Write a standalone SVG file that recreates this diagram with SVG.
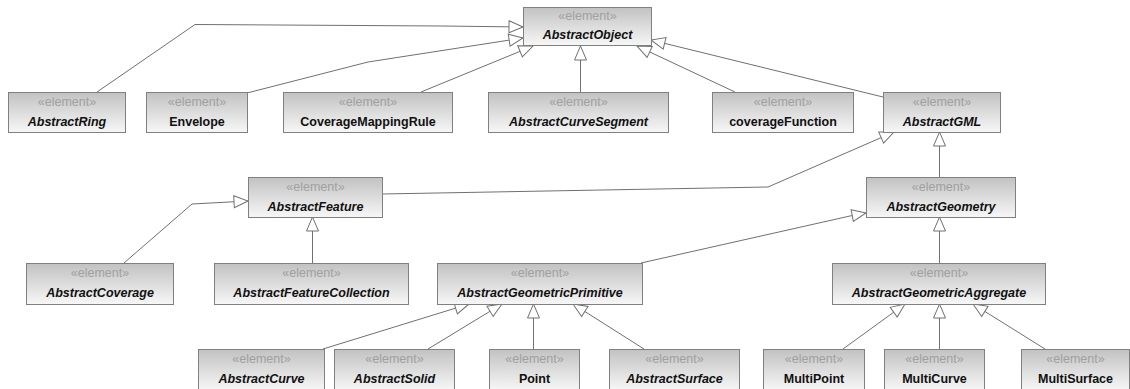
<svg xmlns="http://www.w3.org/2000/svg" width="1130" height="389" viewBox="0 0 1130 389">
  <defs>
    <linearGradient id="boxFill" x1="0" y1="0" x2="0" y2="1">
      <stop offset="0" stop-color="#c2c2c2"/>
      <stop offset="1" stop-color="#f7f7f7"/>
    </linearGradient>
    <marker id="gen" markerUnits="userSpaceOnUse" markerWidth="18" markerHeight="16" refX="15" refY="7" orient="auto" viewBox="0 0 18 14">
      <path d="M1,1 L15,7 L1,13 Z" fill="#ffffff" stroke="#707070" stroke-width="1"/>
    </marker>
    <style>
      .box { fill: url(#boxFill); stroke: #808080; stroke-width: 1; }
      .st { font-family: "Liberation Sans", Arial, sans-serif; font-size: 12.5px; fill: #a0a0a0; text-anchor: middle; }
      .nm { font-family: "Liberation Sans", Arial, sans-serif; font-size: 12.5px; font-weight: bold; fill: #111111; text-anchor: middle; }
      .ab { font-style: italic; }
      .edge { fill: none; stroke: #707070; stroke-width: 1; marker-end: url(#gen); }
    </style>
  </defs>

  <rect width="1130" height="389" fill="#ffffff"/>

  <!-- generalization connectors -->
  <g id="connectors">
    <polyline class="edge" points="97,92 195,24.5 278,25 442,26 523,27"/>
    <polyline class="edge" points="247,93 368,62 523,38"/>
    <polyline class="edge" points="421,92 533,46"/>
    <polyline class="edge" points="580.5,92 580.5,46"/>
    <polyline class="edge" points="735,92 637,46"/>
    <polyline class="edge" points="883,97 651,40"/>
    <polyline class="edge" points="382,194 768,187 894,132"/>
    <polyline class="edge" points="939.5,177 939.5,132"/>
    <polyline class="edge" points="124,263 192,204 248,201"/>
    <polyline class="edge" points="312.5,263 312.5,217"/>
    <polyline class="edge" points="641,263 850,216 866,213"/>
    <polyline class="edge" points="939.5,263 939.5,217"/>
    <polyline class="edge" points="323,349 469,304"/>
    <polyline class="edge" points="428,349 502,304"/>
    <polyline class="edge" points="533.5,349 533.5,304"/>
    <polyline class="edge" points="644,349 573,304"/>
    <polyline class="edge" points="843,349 905,304"/>
    <polyline class="edge" points="939.5,349 939.5,304"/>
    <polyline class="edge" points="1045,349 973,304"/>
  </g>

  <g id="AbstractObject">
    <rect class="box" x="523.5" y="7.5" width="128" height="38"/>
    <text class="st" x="587.5" y="20">«element»</text>
    <text class="nm ab" x="587.5" y="39">AbstractObject</text>
  </g>

  <g id="AbstractRing">
    <rect class="box" x="8.5" y="92.5" width="117" height="40"/>
    <text class="st" x="67" y="106">«element»</text>
    <text class="nm ab" x="67" y="126">AbstractRing</text>
  </g>

  <g id="Envelope">
    <rect class="box" x="146.5" y="92.5" width="101" height="40"/>
    <text class="st" x="197" y="106">«element»</text>
    <text class="nm" x="197" y="126">Envelope</text>
  </g>

  <g id="CoverageMappingRule">
    <rect class="box" x="283.5" y="92.5" width="169" height="40"/>
    <text class="st" x="368" y="106">«element»</text>
    <text class="nm" x="368" y="126">CoverageMappingRule</text>
  </g>

  <g id="AbstractCurveSegment">
    <rect class="box" x="488.5" y="92.5" width="180" height="40"/>
    <text class="st" x="578.5" y="106">«element»</text>
    <text class="nm ab" x="578.5" y="126">AbstractCurveSegment</text>
  </g>

  <g id="coverageFunction">
    <rect class="box" x="712.5" y="92.5" width="141" height="40"/>
    <text class="st" x="783" y="106">«element»</text>
    <text class="nm" x="783" y="126">coverageFunction</text>
  </g>

  <g id="AbstractGML">
    <rect class="box" x="883.5" y="92.5" width="117" height="40"/>
    <text class="st" x="942" y="106">«element»</text>
    <text class="nm ab" x="942" y="126">AbstractGML</text>
  </g>

  <g id="AbstractFeature">
    <rect class="box" x="248.5" y="177.5" width="134" height="40"/>
    <text class="st" x="315.5" y="191">«element»</text>
    <text class="nm ab" x="315.5" y="211">AbstractFeature</text>
  </g>

  <g id="AbstractGeometry">
    <rect class="box" x="866.5" y="177.5" width="149" height="40"/>
    <text class="st" x="941" y="191">«element»</text>
    <text class="nm ab" x="941" y="211">AbstractGeometry</text>
  </g>

  <g id="AbstractCoverage">
    <rect class="box" x="26.5" y="263.5" width="147" height="41"/>
    <text class="st" x="100" y="277">«element»</text>
    <text class="nm ab" x="100" y="297">AbstractCoverage</text>
  </g>

  <g id="AbstractFeatureCollection">
    <rect class="box" x="214.5" y="263.5" width="194" height="41"/>
    <text class="st" x="311.5" y="277">«element»</text>
    <text class="nm ab" x="311.5" y="297">AbstractFeatureCollection</text>
  </g>

  <g id="AbstractGeometricPrimitive">
    <rect class="box" x="437.5" y="263.5" width="205" height="41"/>
    <text class="st" x="540" y="277">«element»</text>
    <text class="nm ab" x="540" y="297">AbstractGeometricPrimitive</text>
  </g>

  <g id="AbstractGeometricAggregate">
    <rect class="box" x="832.5" y="263.5" width="213" height="41"/>
    <text class="st" x="939" y="277">«element»</text>
    <text class="nm ab" x="939" y="297">AbstractGeometricAggregate</text>
  </g>

  <g id="AbstractCurve">
    <rect class="box" x="198.5" y="349.5" width="126" height="41"/>
    <text class="st" x="261.5" y="363">«element»</text>
    <text class="nm ab" x="261.5" y="383">AbstractCurve</text>
  </g>

  <g id="AbstractSolid">
    <rect class="box" x="334.5" y="349.5" width="120" height="41"/>
    <text class="st" x="394.5" y="363">«element»</text>
    <text class="nm ab" x="394.5" y="383">AbstractSolid</text>
  </g>

  <g id="Point">
    <rect class="box" x="489.5" y="349.5" width="90" height="41"/>
    <text class="st" x="534.5" y="363">«element»</text>
    <text class="nm" x="534.5" y="383">Point</text>
  </g>

  <g id="AbstractSurface">
    <rect class="box" x="609.5" y="349.5" width="130" height="41"/>
    <text class="st" x="674.5" y="363">«element»</text>
    <text class="nm ab" x="674.5" y="383">AbstractSurface</text>
  </g>

  <g id="MultiPoint">
    <rect class="box" x="763.5" y="349.5" width="101" height="41"/>
    <text class="st" x="814" y="363">«element»</text>
    <text class="nm" x="814" y="383">MultiPoint</text>
  </g>

  <g id="MultiCurve">
    <rect class="box" x="884.5" y="349.5" width="100" height="41"/>
    <text class="st" x="934.5" y="363">«element»</text>
    <text class="nm" x="934.5" y="383">MultiCurve</text>
  </g>

  <g id="MultiSurface">
    <rect class="box" x="1021.5" y="349.5" width="108" height="41"/>
    <text class="st" x="1075.5" y="363">«element»</text>
    <text class="nm" x="1075.5" y="383">MultiSurface</text>
  </g>
</svg>
